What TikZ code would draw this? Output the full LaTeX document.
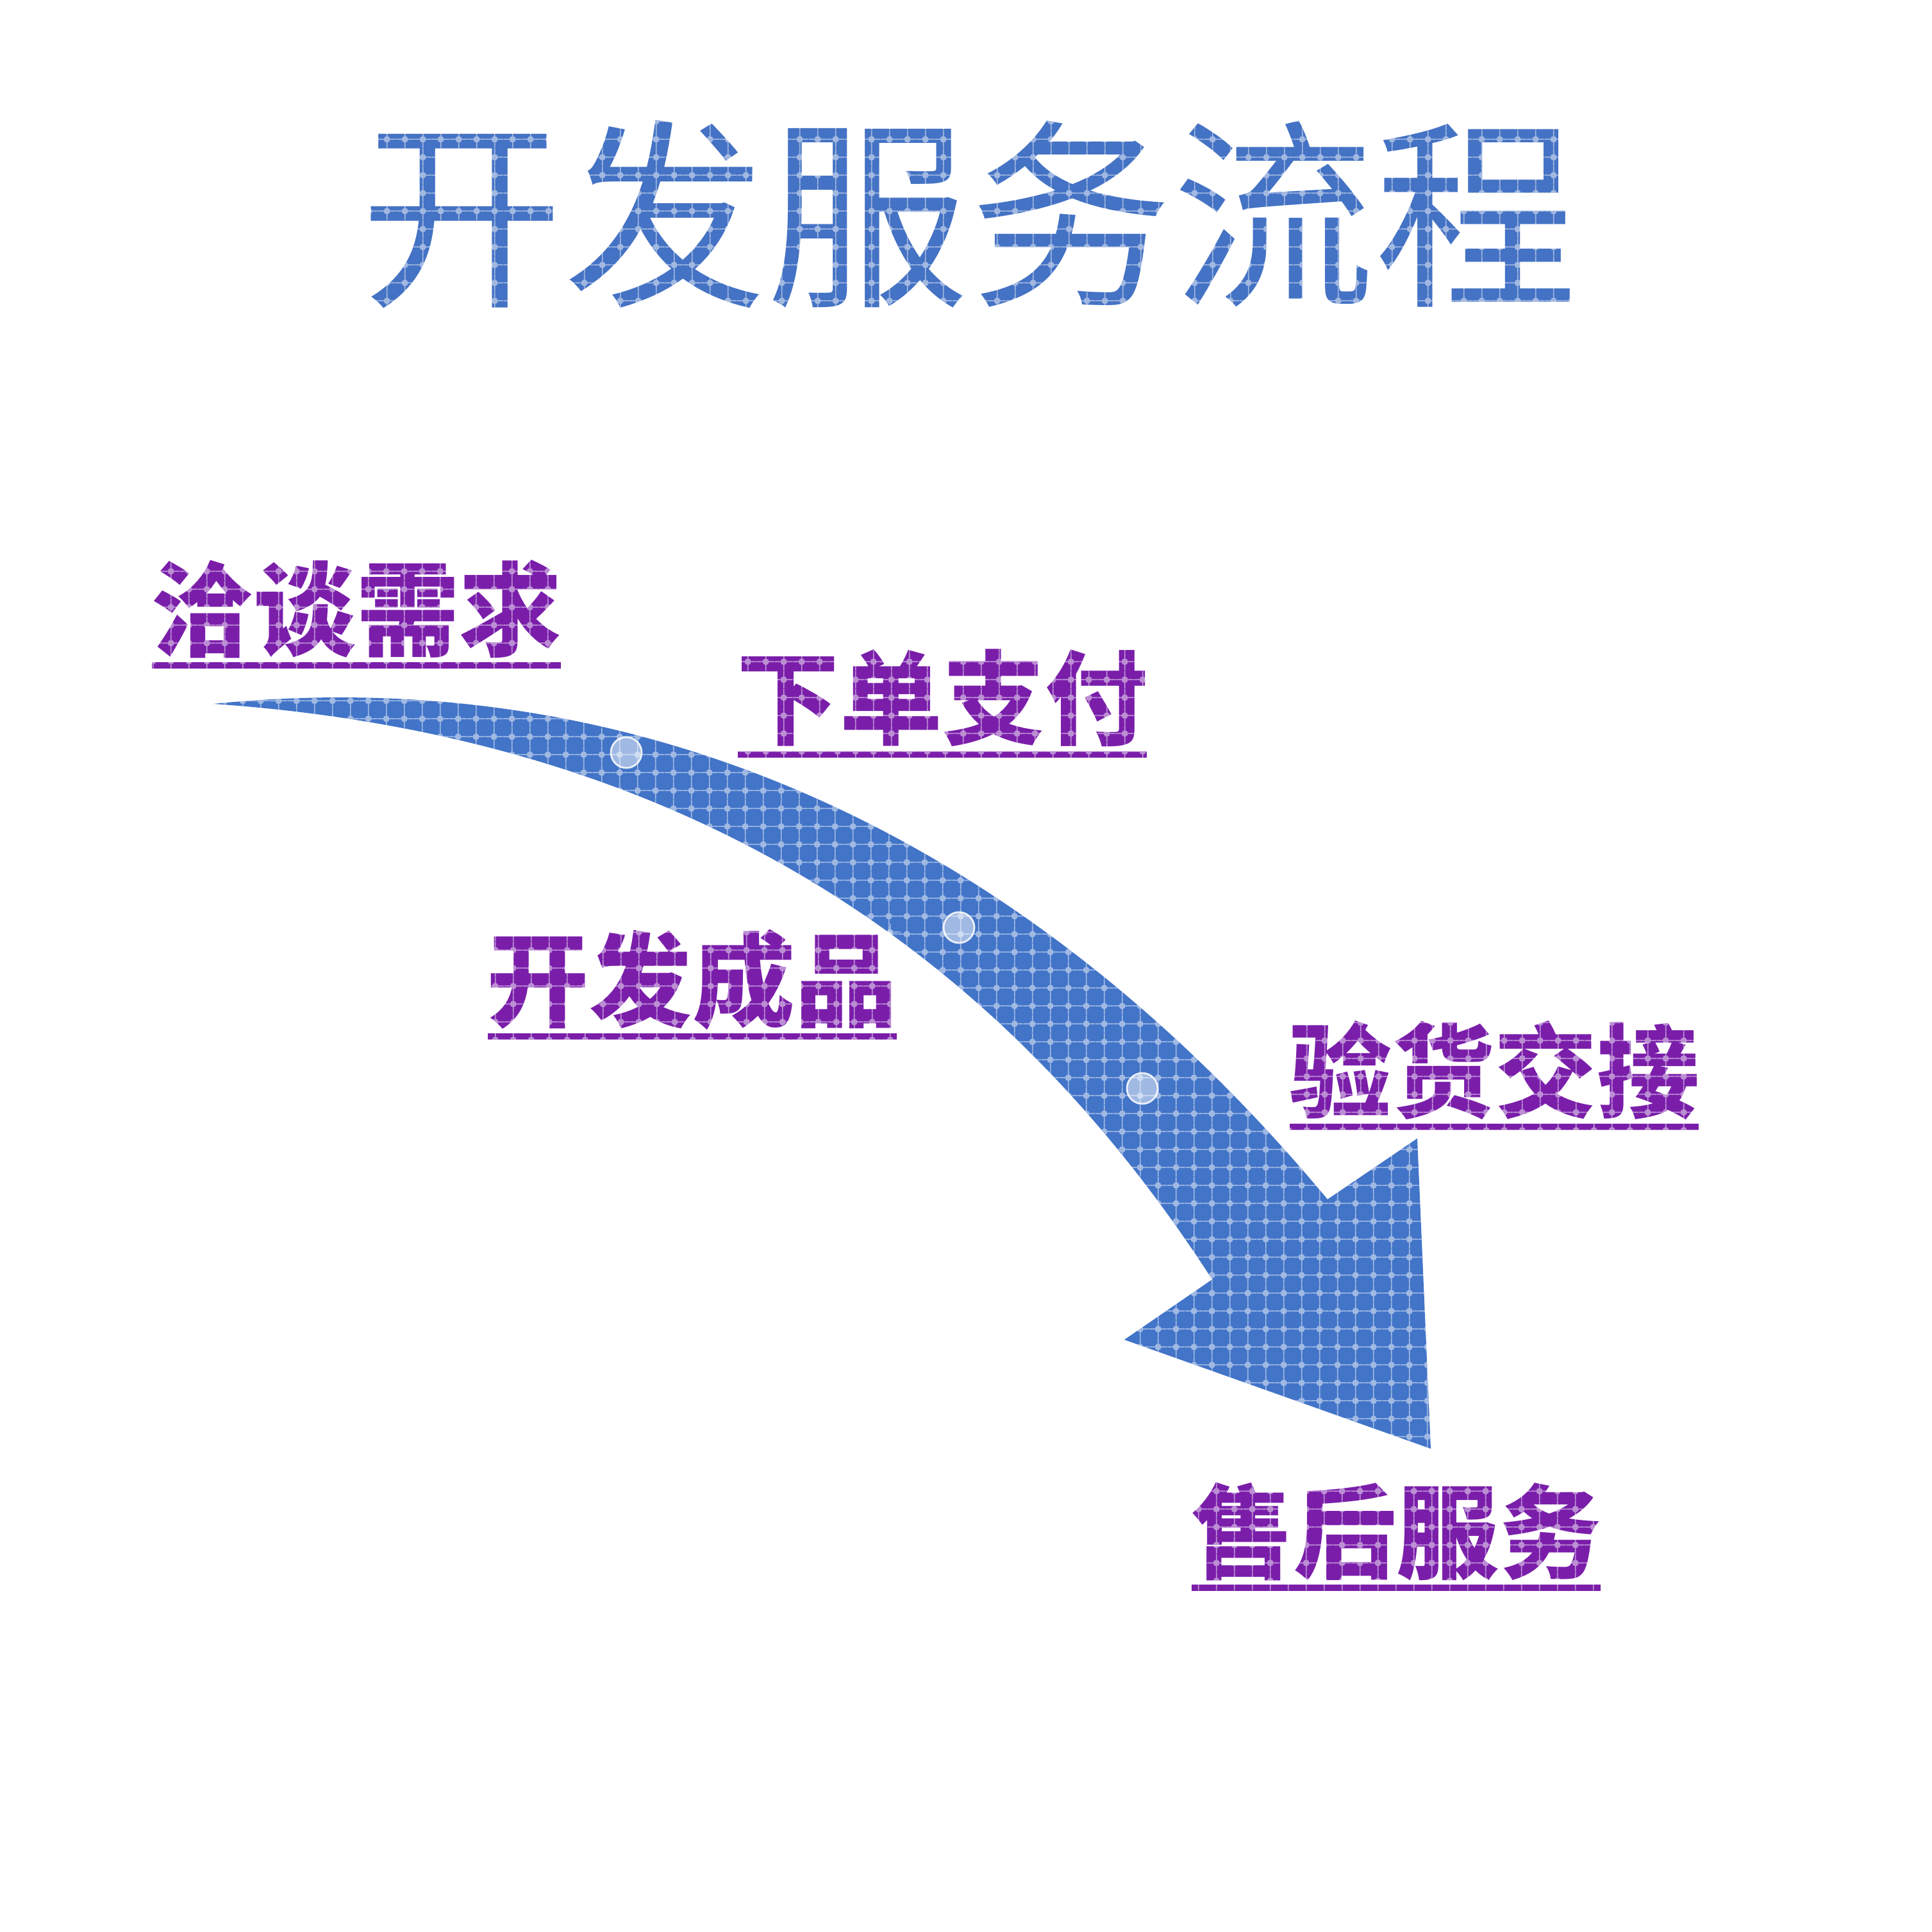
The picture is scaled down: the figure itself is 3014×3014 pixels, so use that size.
\documentclass[tikz,border=0pt]{standalone}
\usepackage{fontspec}
\newfontfamily\cjk{Noto Sans CJK SC}
\usetikzlibrary{calc,patterns}
\definecolor{titleblue}{RGB}{68,114,196}
\definecolor{arrowblue}{RGB}{66,116,200}
\definecolor{labelpurple}{RGB}{122,30,170}
\pgfdeclarepatternformonly{gridglow}{\pgfpointorigin}{\pgfqpoint{8pt}{8pt}}{\pgfqpoint{8pt}{8pt}}{%
  \pgfpathcircle{\pgfqpoint{4pt}{4pt}}{1.5pt}%
  \pgfpathrectangle{\pgfqpoint{0pt}{3.75pt}}{\pgfqpoint{8pt}{0.5pt}}%
  \pgfpathrectangle{\pgfqpoint{3.75pt}{0pt}}{\pgfqpoint{0.5pt}{8pt}}%
  \pgfusepath{fill}%
}
\tikzset{
  titletext/.style={font=\cjk\fontsize{90}{90}\selectfont, text=titleblue, inner sep=0pt},
  lbl/.style={font=\cjk\bfseries\fontsize{45.5}{46}\selectfont, text=labelpurple, inner sep=0pt},
  uline/.style={draw=labelpurple, line width=0.1cm},
  bubble/.style={circle, minimum size=0.48cm, inner sep=0pt, fill=white, fill opacity=0.5, draw=white, draw opacity=0.85, line width=0.8pt},
  glow/.style={pattern=gridglow, pattern color=white, fill opacity=0.5},
}
\begin{document}
\begin{tikzpicture}[x=0.01cm,y=-0.01cm]
\useasboundingbox (0,0) rectangle (3014,3014);
\fill[white] (0,0) rectangle (3014,3014);

% title
\node[titletext] (title) at (1512,334) {开发服务流程};
\fill[glow] ($(title.north west)+(-10,-10)$) rectangle ($(title.south east)+(10,10)$);

% arrow
\coordinate (tail) at (333,1098);
\coordinate (notchA) at (2071,1871);
\coordinate (headR) at (2211,1776);
\coordinate (tip) at (2232,2260);
\coordinate (headL) at (1754,2090);
\coordinate (notchB) at (1891,1996);
\def\arrowpath{(tail) .. controls (1033,1028) and (1621,1331) .. (notchA)
  -- (headR) -- (tip) -- (headL) -- (notchB)
  .. controls (1551,1469) and (1053,1148) .. (tail) -- cycle}
\fill[arrowblue] \arrowpath;
\fill[glow] \arrowpath;

% bubbles
\node[bubble] (d1) at (977,1174) {};
\node[bubble] (d2) at (1496,1447) {};
\node[bubble] (d3) at (1782,1698) {};

% labels
\node[lbl] (l1) at (556,950) {洽谈需求};
\node[lbl] (l2) at (1470,1089) {下单支付};
\node[lbl] (l3) at (1080,1529) {开发成品};
\node[lbl] (l4) at (2331,1670) {验货交接};
\node[lbl] (l5) at (2178,2389) {售后服务};
\foreach \n in {l1,l2,l3,l4,l5}{
  \draw[uline] ($(\n.center)+(-319,88)$) -- ($(\n.center)+(319,88)$);
  \fill[glow] ($(\n.north west)+(-8,-8)$) rectangle ($(\n.center)+(325,96)$);
}
\end{tikzpicture}
\end{document}
